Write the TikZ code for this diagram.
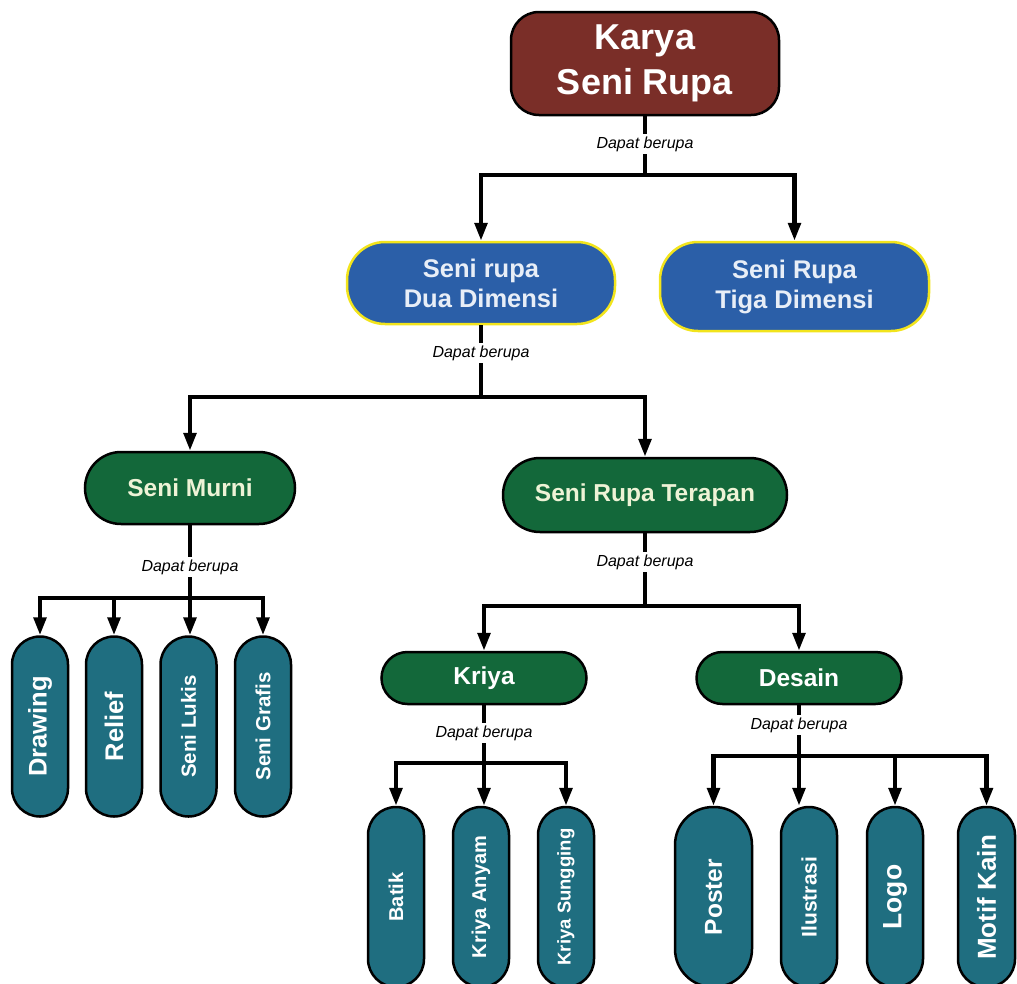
\documentclass[tikz,border=0pt]{standalone}
\usepackage{fontspec}
\setmainfont{Liberation Sans}
\usetikzlibrary{arrows.meta}
\definecolor{topred}{HTML}{7A2E28}
\definecolor{bluefill}{HTML}{2B5FA8}
\definecolor{bluetext}{HTML}{E8EEF7}
\definecolor{yellowline}{HTML}{F2E41C}
\definecolor{greenfill}{HTML}{13683A}
\definecolor{creamtext}{HTML}{EEF3D6}
\definecolor{tealfill}{HTML}{1F6E80}
\begin{document}
\begin{tikzpicture}[x=1pt,y=-1pt,
  topbox/.style={draw=black, fill=topred, line width=2.5pt, rounded corners=28pt,
    minimum width=268pt, minimum height=103pt, text=white, align=center,
    font=\fontsize{36}{45}\selectfont\bfseries},
  bluebox/.style={draw=yellowline, fill=bluefill, line width=2.5pt, rounded corners=38pt,
    minimum width=268pt, text=bluetext, align=center,
    font=\fontsize{25.5}{30}\selectfont\bfseries},
  greenbox/.style={draw=black, fill=greenfill, line width=2.5pt,
    font=\fontsize{24.5}{30}\selectfont\bfseries},
  tealbox/.style={draw=black, fill=tealfill, line width=2.5pt, text=white,
    minimum height=180pt, inner sep=0pt},
  conn/.style={draw=black, line width=4.2pt},
  arr/.style={draw=black, line width=4.2pt, -{Triangle[width=12.5pt,length=18pt]}},
  lbl/.style={fill=white, inner sep=3pt, font=\fontsize{16}{18}\selectfont\itshape}
]
\useasboundingbox (0,0) rectangle (1017,983);
\clip (0,0) rectangle (1017,983);

% nodes
\node[topbox] (top) at (645,63.5) {Karya\\Seni Rupa};
\node[bluebox, minimum height=82pt] (dua) at (481,283) {Seni rupa\\Dua Dimensi};
\node[bluebox, minimum height=89pt, minimum width=269pt] (tiga) at (794.5,286.5) {Seni Rupa\\Tiga Dimensi};

\node[greenbox, text=creamtext, minimum width=210pt, minimum height=72pt, rounded corners=36pt] (murni) at (190,488) {Seni Murni};
\node[greenbox, text=creamtext, minimum width=284pt, minimum height=74pt, rounded corners=37pt] (terapan) at (645,495) {Seni Rupa Terapan};
\node[greenbox, text=white, minimum width=205pt, minimum height=52pt, rounded corners=26pt] (kriya) at (484,678) {Kriya};
\node[greenbox, text=white, minimum width=205pt, minimum height=52pt, rounded corners=26pt] (desain) at (799,678) {Desain};

\node[tealbox, minimum width=56pt, rounded corners=28pt, font=\fontsize{25.5}{30}\selectfont\bfseries] (drawing) at (40,726.5) {\rotatebox{90}{Drawing}};
\node[tealbox, minimum width=56pt, rounded corners=28pt, font=\fontsize{25.5}{30}\selectfont\bfseries] (relief) at (114,726.5) {\rotatebox{90}{Relief}};
\node[tealbox, minimum width=56pt, rounded corners=28pt, font=\fontsize{20.5}{24}\selectfont\bfseries] (lukis) at (188.5,726.5) {\rotatebox{90}{Seni Lukis}};
\node[tealbox, minimum width=56pt, rounded corners=28pt, font=\fontsize{20.5}{24}\selectfont\bfseries] (grafis) at (263,726.5) {\rotatebox{90}{Seni Grafis}};

\node[tealbox, minimum width=56pt, rounded corners=28pt, font=\fontsize{20}{24}\selectfont\bfseries] (batik) at (396,897) {\rotatebox{90}{Batik}};
\node[tealbox, minimum width=56pt, rounded corners=28pt, font=\fontsize{20}{24}\selectfont\bfseries] (anyam) at (481,897) {\rotatebox{90}{Kriya Anyam}};
\node[tealbox, minimum width=56pt, rounded corners=28pt, font=\fontsize{18.5}{22}\selectfont\bfseries] (sungging) at (566,897) {\rotatebox{90}{Kriya Sungging}};

\node[tealbox, minimum width=77pt, rounded corners=38pt, font=\fontsize{24.5}{28}\selectfont\bfseries] (poster) at (713.5,897) {\rotatebox{90}{Poster}};
\node[tealbox, minimum width=56pt, rounded corners=28pt, font=\fontsize{21}{24}\selectfont\bfseries] (ilustrasi) at (809,897) {\rotatebox{90}{Ilustrasi}};
\node[tealbox, minimum width=56pt, rounded corners=28pt, font=\fontsize{26.5}{30}\selectfont\bfseries] (logo) at (895,897) {\rotatebox{90}{Logo}};
\node[tealbox, minimum width=57pt, rounded corners=28pt, font=\fontsize{26}{30}\selectfont\bfseries] (motif) at (986.5,897) {\rotatebox{90}{Motif Kain}};

% level 1
\coordinate (b1) at (645,175);
\draw[conn] (top.south) -- (b1);
\draw[arr] (b1) -| (dua.north);
\draw[arr] (b1) -| (tiga.north);
\node[lbl] (l1) at (645,144) {Dapat berupa};

% level 2
\coordinate (b2) at (481,397);
\draw[conn] (dua.south) -- (b2);
\draw[arr] (b2) -| (murni.north);
\draw[arr] (b2) -| (terapan.north);
\node[lbl] (l2) at (481,353) {Dapat berupa};

% Seni Murni
\coordinate (b3) at (190,598);
\draw[conn] (murni.south) -- (b3);
\draw[arr] (b3) -| (drawing.north);
\draw[arr] (b3) -| (relief.north);
\draw[arr] (b3) -- (b3 |- lukis.north);
\draw[arr] (b3) -| (grafis.north);
\node[lbl] (l3) at (190,567) {Dapat berupa};

% Seni Rupa Terapan
\coordinate (b4) at (645,606);
\draw[conn] (terapan.south) -- (b4);
\draw[arr] (b4) -| (kriya.north);
\draw[arr] (b4) -| (desain.north);
\node[lbl] (l4) at (645,562) {Dapat berupa};

% Kriya
\coordinate (b5) at (484,763);
\draw[conn] (kriya.south) -- (b5);
\draw[arr] (b5) -| (batik.north);
\draw[arr] (b5) -- (b5 |- anyam.north);
\draw[arr] (b5) -| (sungging.north);
\node[lbl] (l5) at (484,733) {Dapat berupa};

% Desain
\coordinate (b6) at (799,756);
\draw[conn] (desain.south) -- (b6);
\draw[arr] (b6) -| (poster.north);
\draw[arr] (b6) -- (b6 |- ilustrasi.north);
\draw[arr] (b6) -| (logo.north);
\draw[arr] (b6) -| (motif.north);
\node[lbl] (l6) at (799,725) {Dapat berupa};
\end{tikzpicture}
\end{document}
